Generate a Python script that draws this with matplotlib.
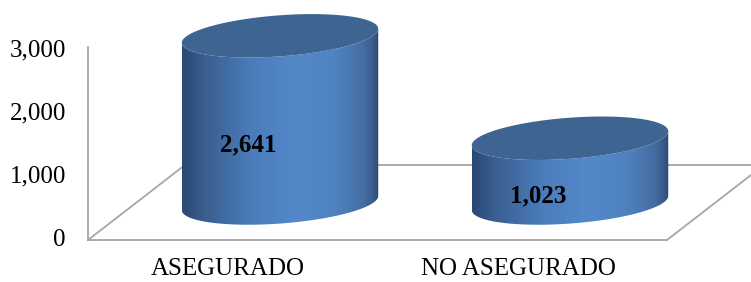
import numpy as np
import matplotlib.pyplot as plt
from matplotlib.colors import LinearSegmentedColormap
from matplotlib.patches import Polygon

# data
categories = ['ASEGURADO', 'NO ASEGURADO']
values = [2641, 1023]
value_labels = ['2,641', '1,023']
y_ticks = [0, 1000, 2000, 3000]
y_tick_labels = ['0', '1,000', '2,000', '3,000']

# layout (pixels of a 751x282 image)
W, H, DPI = 751, 282, 100
PX_PER_CAT = 290.0    # px between categories
PX_PER_VAL = 0.0633   # px per unit of value
X0_PX, Y0_PX = 228.0, 240.0   # first category / value 0 on the front plane

FLOOR_DEPTH = (97.0, 75.0)    # floor depth vector in px (right, up)
BAR_SHIFT = (52.0, 37.0)      # where the cylinders stand inside the floor
ELL_A, ELL_B, ELL_ANG = 98.5, 20.5, np.radians(4.3)

FONT = 'Liberation Serif'
GRID = '#a6a6a6'


def px(dx, dy):
    # pixel offsets -> data offsets
    return dx / PX_PER_CAT, dy / PX_PER_VAL


def ellipse_pts(t):
    ex = ELL_A * np.cos(t) * np.cos(ELL_ANG) - ELL_B * np.sin(t) * np.sin(ELL_ANG)
    ey = ELL_A * np.cos(t) * np.sin(ELL_ANG) + ELL_B * np.sin(t) * np.cos(ELL_ANG)
    return px(ex, ey)


fig = plt.figure(figsize=(W / DPI, H / DPI), dpi=DPI)
ax = fig.add_axes([0, 0, 1, 1])
ax.axis('off')

# floor and axis wall
x_axis = px(88 - X0_PX, 0)[0]
x_floor_r = px(667 - X0_PX, 0)[0]
ddx, ddy = px(*FLOOR_DEPTH)
ax.plot([x_axis, x_floor_r], [0, 0], color=GRID, lw=1.3, zorder=1)
ax.plot([x_axis, x_axis + ddx], [0, ddy], color=GRID, lw=1.3, zorder=1)
ax.plot([x_floor_r, x_floor_r + ddx * 1.5], [0, ddy * 1.5], color=GRID, lw=1.3, zorder=1)
ax.plot([x_axis + ddx, x_floor_r + ddx * 1.5], [ddy, ddy], color=GRID, lw=1.3, zorder=1)
ax.plot([x_axis, x_axis], [0, 3050], color=GRID, lw=1.3, zorder=1)

x_lab = px(66 - X0_PX, 0)[0]
for v, s in zip(y_ticks, y_tick_labels):
    ax.text(x_lab, v, s, ha='right', va='center', fontsize=18,
            family=FONT, color='black')

side_cmap = LinearSegmentedColormap.from_list('side', [
    (0.0, '#2a4873'), (0.12, '#3a5f90'), (0.35, '#4a7cba'),
    (0.58, '#5488c9'), (0.78, '#4f82c0'), (0.92, '#456fa4'),
    (0.97, '#3a5d8e'), (1.0, '#2d4970')])

t0 = np.arctan(-(ELL_B * np.sin(ELL_ANG)) / (ELL_A * np.cos(ELL_ANG)))
t_low = np.linspace(t0 + np.pi, t0 + 2 * np.pi, 120)
t_all = np.linspace(0, 2 * np.pi, 240)
bdx, bdy = px(*BAR_SHIFT)
half_w = px(np.sqrt((ELL_A * np.cos(ELL_ANG)) ** 2 + (ELL_B * np.sin(ELL_ANG)) ** 2), 0)[0]

for i, (v, lab) in enumerate(zip(values, value_labels)):
    cx, base = i + bdx, bdy
    top = base + v
    lx, ly = ellipse_pts(t_low)
    side = np.vstack([np.column_stack([cx + lx, base + ly]),
                      np.column_stack([cx + lx[::-1], top + ly[::-1]])])
    poly = Polygon(side, closed=True, facecolor='none', edgecolor='none')
    ax.add_patch(poly)
    grad = np.linspace(0, 1, 256).reshape(1, -1)
    im = ax.imshow(grad, cmap=side_cmap, aspect='auto', zorder=2,
                   extent=[cx - half_w, cx + half_w, base - 2000, top + 2000])
    im.set_clip_path(poly)

    ex, ey = ellipse_pts(t_all)
    ax.add_patch(Polygon(np.column_stack([cx + ex, top + ey]), closed=True,
                         facecolor='#3e6591', edgecolor='none', zorder=3))

    ox, oy = px(-31.5, -25)
    ax.text(cx + ox, base + v / 2 + oy, lab, ha='center', va='center',
            fontsize=18, fontweight='bold', family=FONT, zorder=4)

cy = px(0, -29)[1]
for i, c in enumerate(categories):
    ax.text(i, cy, c, ha='center', va='center', fontsize=18, family=FONT)

ax.set_xlim(-X0_PX / PX_PER_CAT, (W - X0_PX) / PX_PER_CAT)
ax.set_ylim(-(H - Y0_PX) / PX_PER_VAL, Y0_PX / PX_PER_VAL)

fig.savefig('out.png', dpi=DPI)
